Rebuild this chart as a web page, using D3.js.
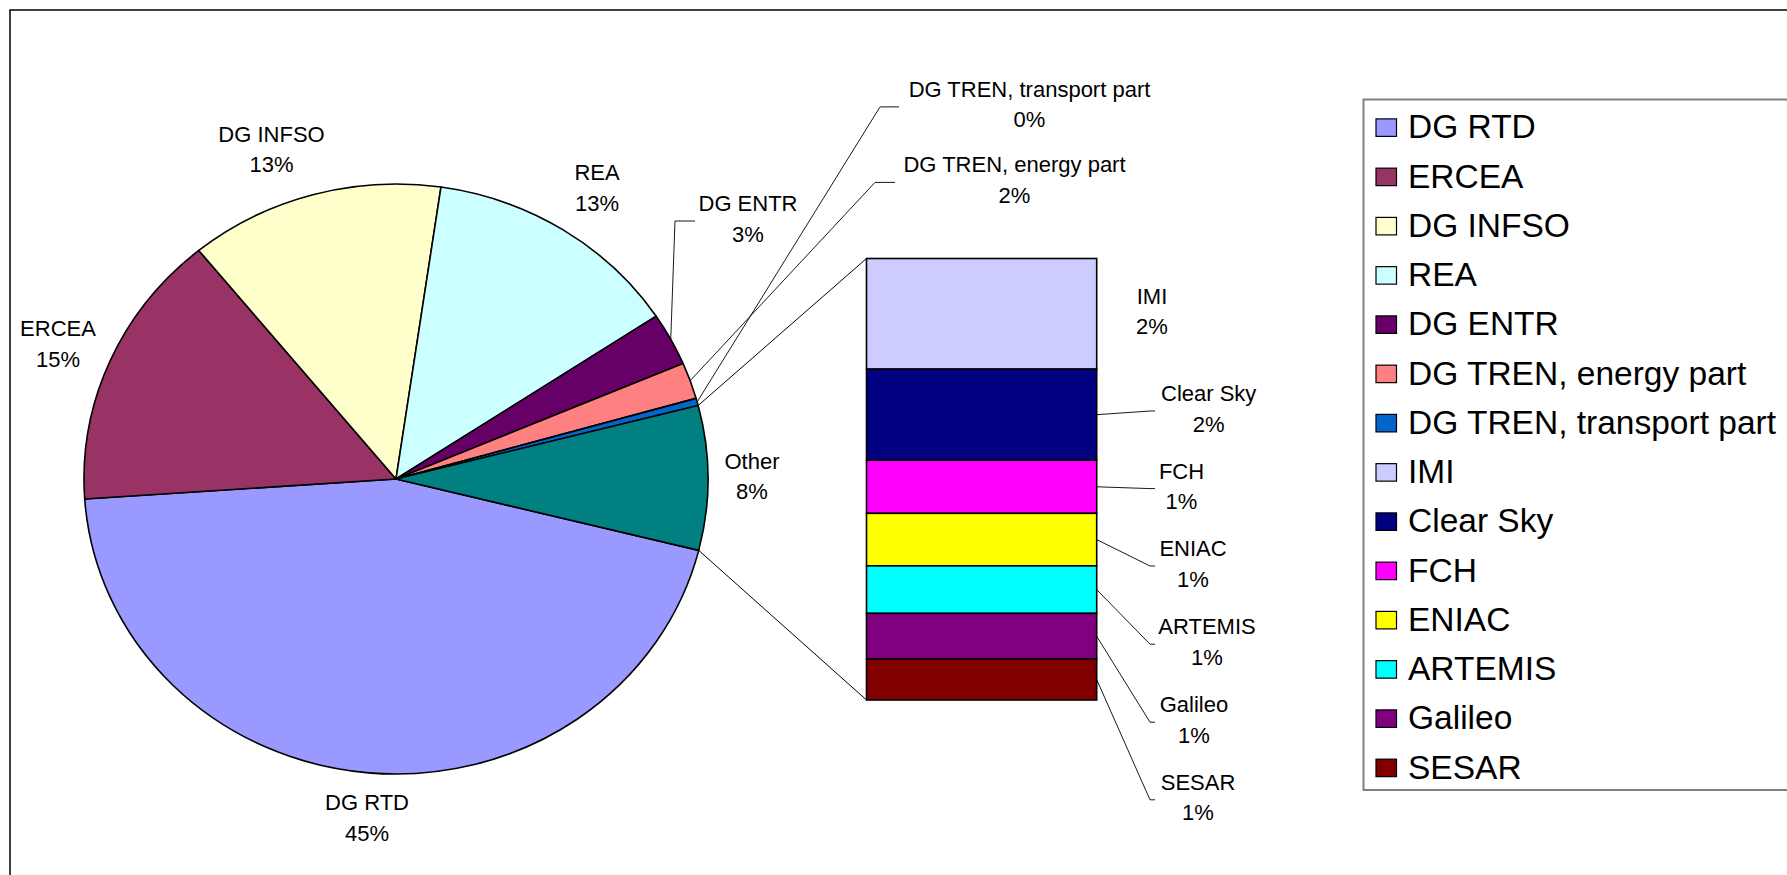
<!DOCTYPE html>
<html>
<head>
<meta charset="utf-8">
<script src="https://cdn.jsdelivr.net/npm/d3@7"></script>
<style>
  html, body { margin: 0; padding: 0; background: #fff; }
  svg { display: block; }
  text { font-family: "Liberation Sans", Arial, sans-serif; fill: #000; }
</style>
</head>
<body>
<svg id="chart" width="1787" height="875"></svg>
<script>
// ---------- DATA ----------
const pieNames  = ["DG RTD", "ERCEA", "DG INFSO", "REA", "DG ENTR", "DG TREN, energy part", "DG TREN, transport part"];
const pieValues = [45.05, 15.2, 13.2, 13.4, 2.9, 2.0, 0.4];
const pieColors = ["#9999FF", "#993366", "#FFFFCC", "#CCFFFF", "#660066", "#FF8080", "#0066CC"];

const otherName  = "Other";
const otherColor = "#008080";

const barNames  = ["IMI", "Clear Sky", "FCH", "ENIAC", "ARTEMIS", "Galileo", "SESAR"];
const barValues = [1.98, 1.63, 0.95, 0.94, 0.85, 0.82, 0.73];
const barColors = ["#CCCCFF", "#000080", "#FF00FF", "#FFFF00", "#00FFFF", "#800080", "#800000"];

// ---------- LAYOUT ----------
const W = 1787, H = 875;
const pieCx = 396, pieCy = 479, pieR = 312, pieRy = 295;
const pieStartDeg = 104;                       // where the first slice begins (clockwise from 12 o'clock)
const bar = { x0: 866.5, x1: 1096.7, y0: 258.5, y1: 700 };
const lineGap = 30.5;
const labelFont = 22;

// label placements: centre x and first baseline; optional leader elbow
const pieLabelPos = {
  "DG RTD":                  { x: 367,    y: 810 },
  "ERCEA":                   { x: 58,     y: 336 },
  "DG INFSO":                { x: 271.5,  y: 141.7 },
  "REA":                     { x: 597,    y: 180 },
  "DG ENTR":                 { x: 748,    y: 211,   leader: [675, 695] },
  "DG TREN, energy part":    { x: 1014.5, y: 172.4, leader: [875, 895] },
  "DG TREN, transport part": { x: 1029.5, y: 96.9,  leader: [880, 899] },
  "Other":                   { x: 752,    y: 468.8 }
};
const barLabelPos = {
  "IMI":       { x: 1152,   y: 303.6 },
  "Clear Sky": { x: 1208.7, y: 401,   leader: [1150, 1155] },
  "FCH":       { x: 1181.5, y: 478.6, leader: [1150, 1155] },
  "ENIAC":     { x: 1193,   y: 556,   leader: [1150, 1155] },
  "ARTEMIS":   { x: 1207,   y: 634.2, leader: [1150, 1155] },
  "Galileo":   { x: 1194,   y: 712.2, leader: [1150, 1155] },
  "SESAR":     { x: 1198,   y: 789.8, leader: [1150, 1155] }
};

const svg = d3.select("#chart");

// outer chart border
svg.append("rect")
  .attr("x", 10).attr("y", 10).attr("width", 1800).attr("height", 900)
  .attr("fill", "#fff").attr("stroke", "#000").attr("stroke-width", 1.5);

// ---------- PIE ----------
const otherTotal = d3.sum(barValues);
const pieData = pieNames.map((n, i) => ({ name: n, value: pieValues[i], color: pieColors[i] }))
  .concat([{ name: otherName, value: otherTotal, color: otherColor }]);
const grandTotal = d3.sum(pieData, d => d.value);
const pct = v => Math.round(v / grandTotal * 100) + "%";

const start = pieStartDeg * Math.PI / 180;
const arcs = d3.pie().sort(null).value(d => d.value)
  .startAngle(start).endAngle(start + 2 * Math.PI)(pieData);

const ys = pieRy / pieR;
const arc = d3.arc().innerRadius(0).outerRadius(pieR);
const edgePt = a => [pieCx + pieR * Math.sin(a), pieCy - pieRy * Math.cos(a)];

const pieG = svg.append("g").attr("transform", `translate(${pieCx},${pieCy}) scale(1,${ys})`);
pieG.selectAll("path").data(arcs).join("path")
  .attr("d", arc)
  .attr("fill", d => d.data.color)
  .attr("stroke", "#000")
  .attr("stroke-width", 1.6)
  .attr("stroke-linejoin", "round")
  .attr("vector-effect", "non-scaling-stroke");

// ---------- BAR ----------
const yBar = d3.scaleLinear().domain([0, otherTotal]).range([bar.y0, bar.y1]);
let acc = 0;
const barData = barNames.map((n, i) => {
  const d = { name: n, value: barValues[i], color: barColors[i], a: acc, b: acc + barValues[i] };
  acc += barValues[i];
  return d;
});

// connector lines pie -> bar
const otherArc = arcs[arcs.length - 1];
const pTop = edgePt(otherArc.startAngle);
const pBot = edgePt(otherArc.endAngle);
const conn = svg.append("g").attr("stroke", "#000").attr("stroke-width", 1).attr("fill", "none");
conn.append("line").attr("x1", pTop[0]).attr("y1", pTop[1]).attr("x2", bar.x0).attr("y2", yBar(0));
conn.append("line").attr("x1", pBot[0]).attr("y1", pBot[1]).attr("x2", bar.x0).attr("y2", yBar(otherTotal));

svg.append("g").selectAll("rect").data(barData).join("rect")
  .attr("x", bar.x0).attr("width", bar.x1 - bar.x0)
  .attr("y", d => yBar(d.a)).attr("height", d => yBar(d.b) - yBar(d.a))
  .attr("fill", d => d.color)
  .attr("stroke", "#000").attr("stroke-width", 1.6);

// ---------- LABELS ----------
const lab = svg.append("g").attr("font-size", labelFont).attr("text-anchor", "middle");
const leaders = svg.append("g").attr("stroke", "#000").attr("stroke-width", 0.9).attr("fill", "none");

function drawLabel(name, value, pos, from) {
  lab.append("text").attr("x", pos.x).attr("y", pos.y).text(name);
  lab.append("text").attr("x", pos.x).attr("y", pos.y + lineGap).text(pct(value));
  if (pos.leader && from) {
    const ey = pos.y + 10;
    leaders.append("polyline")
      .attr("points", [from, [pos.leader[0], ey], [pos.leader[1], ey]].map(p => p.join(",")).join(" "));
  }
}

arcs.forEach(a => {
  const mid = (a.startAngle + a.endAngle) / 2;
  drawLabel(a.data.name, a.data.value, pieLabelPos[a.data.name], edgePt(mid));
});
barData.forEach(d => {
  const from = [bar.x1, yBar((d.a + d.b) / 2)];
  drawLabel(d.name, d.value, barLabelPos[d.name], from);
});

// ---------- LEGEND ----------
const legend = { x: 1363.5, y: 99.5, row0: 138.4, step: 49.25, font: 33.5 };
const legendItems = pieData.filter(d => d.name !== otherName)
  .concat(barData.map(d => ({ name: d.name, color: d.color })));

svg.append("rect")
  .attr("x", legend.x).attr("y", legend.y).attr("width", 600).attr("height", 790 - legend.y)
  .attr("fill", "none").attr("stroke", "#808080").attr("stroke-width", 2);

const lg = svg.append("g");
const rows = lg.selectAll("g").data(legendItems).join("g")
  .attr("transform", (d, i) => `translate(0,${legend.row0 + i * legend.step})`);
rows.append("rect")
  .attr("x", 1376).attr("y", -19.5).attr("width", 20.5).attr("height", 17.5)
  .attr("fill", d => d.color).attr("stroke", "#000").attr("stroke-width", 1.2);
rows.append("text")
  .attr("x", 1408).attr("y", 0)
  .attr("font-size", legend.font)
  .text(d => d.name);
</script>
</body>
</html>
